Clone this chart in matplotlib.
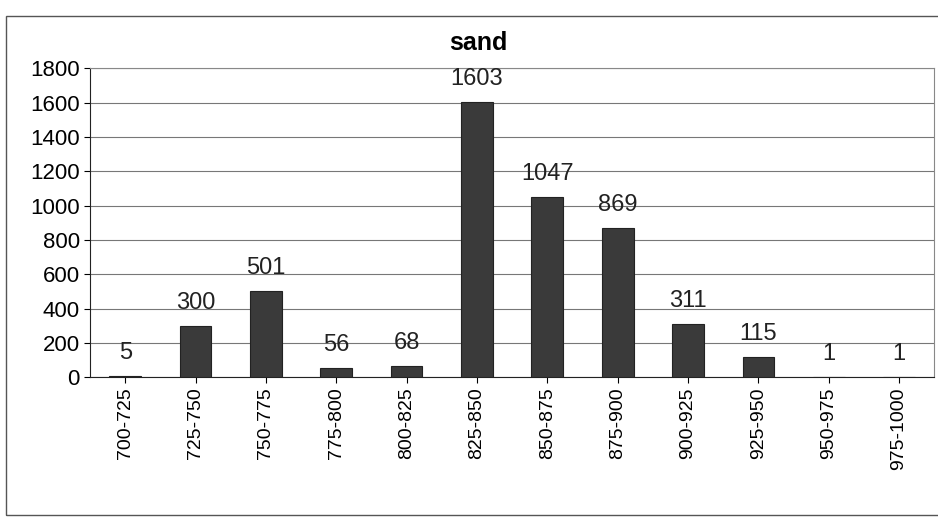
import matplotlib.pyplot as plt
from matplotlib.patches import Rectangle

bins = ['700-725', '725-750', '750-775', '775-800', '800-825', '825-850',
        '850-875', '875-900', '900-925', '925-950', '950-975', '975-1000']
counts = [5, 300, 501, 56, 68, 1603, 1047, 869, 311, 115, 1, 1]

plt.rcParams['font.family'] = ['Liberation Sans', 'DejaVu Sans']

fig = plt.figure(figsize=(9.38, 5.21), dpi=100)
fig.patch.set_facecolor('white')
# outer chart border
fig.patches.append(Rectangle((0.006, 0.012), 0.996, 0.958, transform=fig.transFigure,
                             fill=False, edgecolor='#555555', linewidth=1.0))

ax = fig.add_axes([0.096, 0.276, 0.9, 0.593])
x = range(len(bins))
ax.bar(x, counts, width=0.45, color='#3a3a3a', edgecolor='#222222', linewidth=0.8, zorder=3)

for i, v in zip(x, counts):
    ax.text(i, v + 70, str(v), ha='center', va='bottom', fontsize=17, color='#222222', zorder=4)

ax.set_xlim(-0.5, len(bins) - 0.5)
ax.set_ylim(0, 1800)
ax.set_yticks(range(0, 1801, 200))
ax.yaxis.grid(True, color='#777777', linewidth=0.8, zorder=0)
ax.set_xticks(list(x))
ax.set_xticklabels(bins, rotation=90, fontsize=14)
ax.tick_params(axis='y', labelsize=16, length=4)
ax.tick_params(axis='x', length=4)
for side in ['top', 'right']:
    ax.spines[side].set_color('#888888')
for side in ['left', 'bottom']:
    ax.spines[side].set_color('#222222')

fig.text(0.51, 0.918, 'sand', ha='center', va='center', fontsize=18, fontweight='bold')

fig.savefig('out.png', dpi=100)
